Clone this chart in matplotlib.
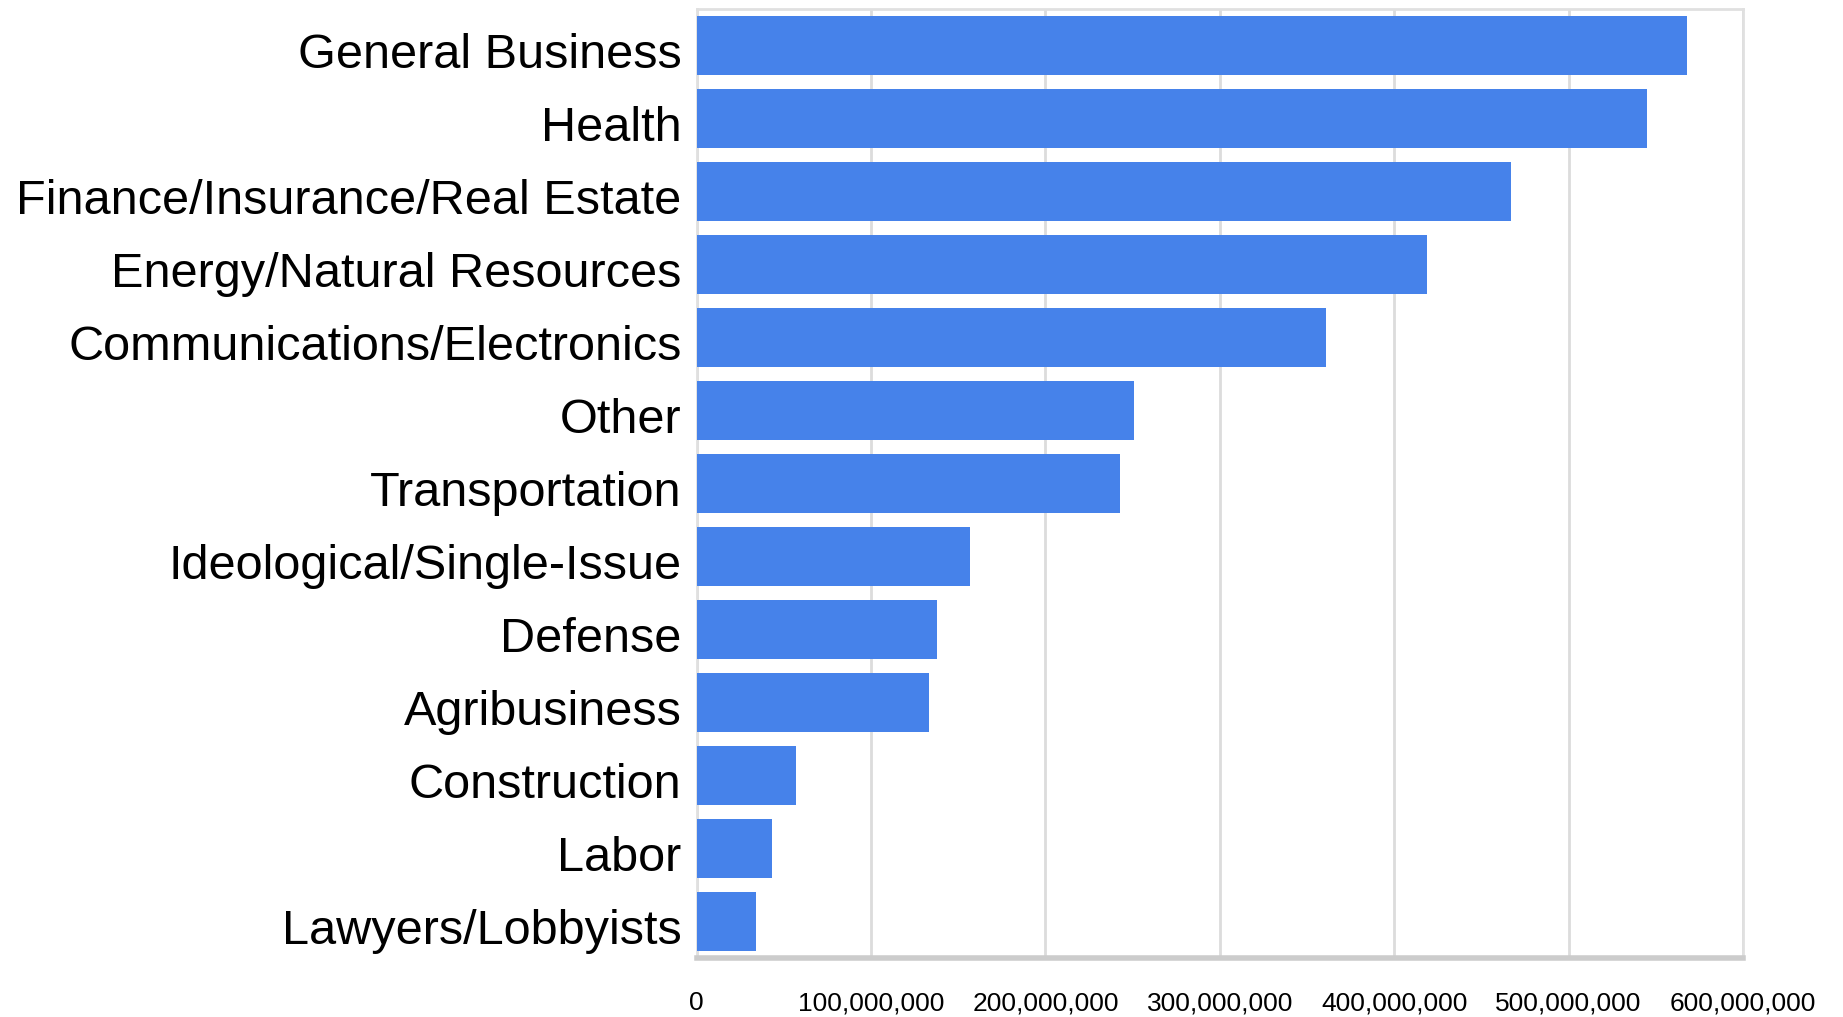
import matplotlib.pyplot as plt
from matplotlib.ticker import FuncFormatter
from matplotlib.transforms import ScaledTranslation

categories = ['General Business', 'Health', 'Finance/Insurance/Real Estate',
              'Energy/Natural Resources', 'Communications/Electronics', 'Other',
              'Transportation', 'Ideological/Single-Issue', 'Defense',
              'Agribusiness', 'Construction', 'Labor', 'Lawyers/Lobbyists']
amounts = [568e6, 545e6, 467e6, 419e6, 361e6, 251e6, 243e6,
           157e6, 138e6, 133e6, 57e6, 43e6, 34e6]
xticks = [0, 100e6, 200e6, 300e6, 400e6, 500e6, 600e6]

plt.rcParams['font.family'] = ['Liberation Sans', 'DejaVu Sans']

fig = plt.figure(figsize=(18.43, 10.17), dpi=100)
ax = fig.add_axes([0.378, 0.058, 0.5677, 0.933])

ypos = list(range(len(categories)))
ax.barh(ypos, amounts, height=0.8, color='#4682EA', zorder=3)
ax.set_ylim(len(categories) - 0.5, -0.5)
ax.set_xlim(0, 600e6)

ax.set_yticks(ypos)
ax.set_yticklabels(categories, fontsize=35)
ax.tick_params(axis='y', length=0, pad=11)
# labels sit a little below the bar centre in the original
shift = ScaledTranslation(0, -0.05, fig.dpi_scale_trans)
for lbl in ax.get_yticklabels():
    lbl.set_transform(lbl.get_transform() + shift)

ax.set_xticks(xticks)
ax.xaxis.set_major_formatter(FuncFormatter(lambda v, p: '{:,.0f}'.format(v)))
ax.tick_params(axis='x', labelsize=19, length=0, pad=24)

ax.grid(axis='x', color='#dcdcdc', linewidth=2, zorder=0)
for side in ['top', 'right', 'left']:
    ax.spines[side].set_color('#e0e0e0')
    ax.spines[side].set_linewidth(2)
ax.spines['bottom'].set_color('#cccccc')
ax.spines['bottom'].set_linewidth(4)

plt.savefig('out.png', dpi=100)
